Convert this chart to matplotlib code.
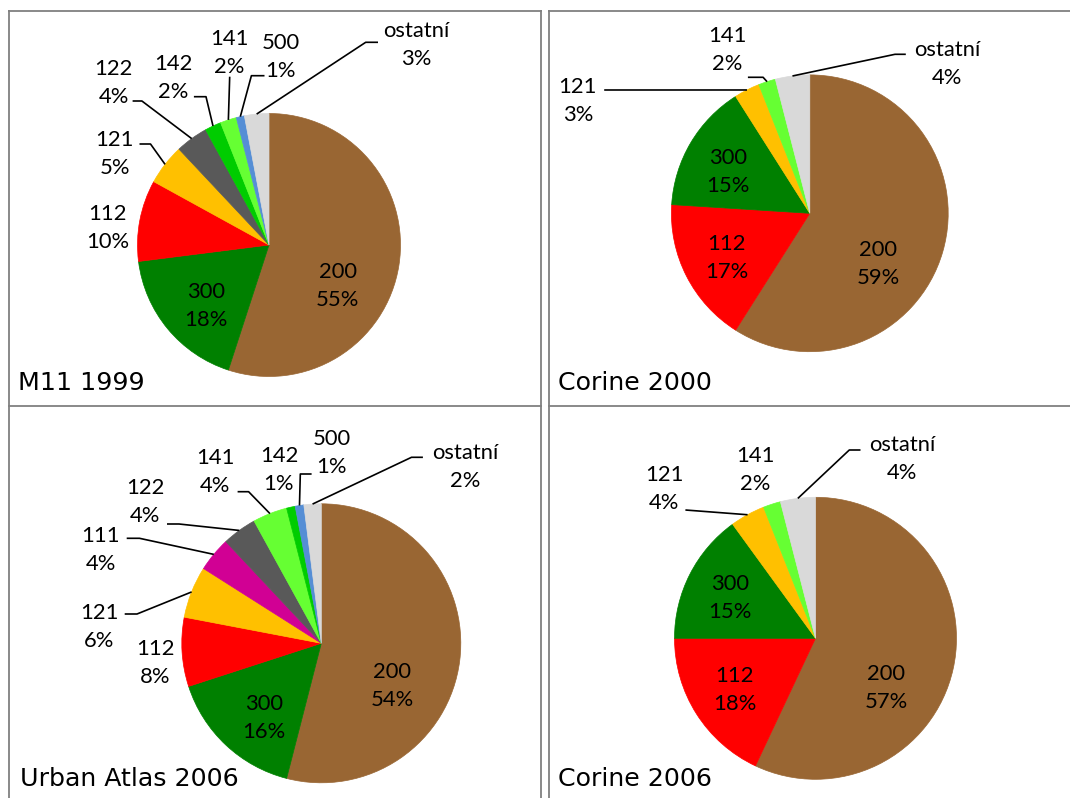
import matplotlib
matplotlib.use("Agg")
import matplotlib.pyplot as plt
from matplotlib.lines import Line2D
import numpy as np

plt.rcParams['font.family'] = ['Lato', 'DejaVu Sans']

W, H = 1070, 798

# ---- data: land-cover class codes and their shares (%) ----
m11_codes = ["200", "300", "112", "121", "122", "142", "141", "500", "ostatní"]
m11_shares = [55, 18, 10, 5, 4, 2, 2, 1, 3]

corine2000_codes = ["200", "112", "300", "121", "141", "ostatní"]
corine2000_shares = [59, 17, 15, 3, 2, 4]

urban_codes = ["200", "300", "112", "121", "111", "122", "141", "142", "500", "ostatní"]
urban_shares = [54, 16, 8, 6, 4, 4, 4, 1, 1, 2]

corine2006_codes = ["200", "112", "300", "121", "141", "ostatní"]
corine2006_shares = [57, 18, 15, 4, 2, 4]

titles = ["M11 1999", "Corine 2000", "Urban Atlas 2006", "Corine 2006"]

class_colors = {
    "200": "#996633",
    "300": "#008000",
    "112": "#FF0000",
    "121": "#FFC000",
    "122": "#595959",
    "111": "#D10094",
    "142": "#00CC00",
    "141": "#66FF33",
    "500": "#558ED5",
    "ostatní": "#D9D9D9",
}

# ---- layout (pixel coordinates measured from the top-left corner) ----
# label: (x, y of block centre); leader: (x_start, x_elbow, y)
panels = [
    dict(codes=m11_codes, shares=m11_shares, title=titles[0],
         center=(269, 245), radius=131.5, title_xy=(18.0, 389.5),
         labels={"200": (337.5, 283.8), "300": (205.6, 303.8), "112": (107.4, 225.8),
                 "121": (114.7, 151.5), "122": (113.6, 80.3), "142": (173.2, 75.8),
                 "141": (229.0, 50.5), "500": (280.6, 54.2), "ostatní": (416.7, 42.7)},
         leaders={"121": (139.5, 150.5, 144.0), "122": (132.6, 141.9, 101.0),
                  "142": (193.9, 206.0, 96.7), "141": (229.7, 229.7, 76.7),
                  "500": (264.5, 251.4, 75.7), "ostatní": (378.0, 365.7, 42.3)}),
    dict(codes=corine2000_codes, shares=corine2000_shares, title=titles[1],
         center=(809.8, 213.3), radius=138.4, title_xy=(557.5, 390.5),
         labels={"200": (878.0, 261.7), "112": (726.6, 255.8), "300": (728.3, 169.7),
                 "121": (577.9, 98.3), "141": (727.0, 47.5), "ostatní": (947.4, 61.7)},
         leaders={"121": (604.2, 604.2, 90.0), "141": (747.9, 763.1, 77.3),
                  "ostatní": (905.8, 895.0, 54.3)}),
    dict(codes=urban_codes, shares=urban_shares, title=titles[2],
         center=(321.3, 643.3), radius=139.5, title_xy=(20.5, 786.0),
         labels={"200": (391.9, 683.5), "300": (264.1, 715.5), "112": (155.0, 660.2),
                 "121": (99.2, 624.2), "111": (100.9, 547.5), "122": (145.3, 499.2),
                 "141": (215.2, 469.5), "142": (278.9, 467.5), "500": (331.3, 450.8),
                 "ostatní": (464.9, 465.0)},
         leaders={"121": (124.7, 137.0, 614.0), "111": (126.7, 139.5, 538.3),
                  "122": (167.0, 179.0, 524.0), "141": (237.6, 248.6, 491.7),
                  "500": (311.6, 300.3, 474.0), "ostatní": (422.9, 411.5, 457.3)}),
    dict(codes=corine2006_codes, shares=corine2006_shares, title=titles[3],
         center=(815.5, 638.3), radius=141.0, title_xy=(557.5, 786.0),
         labels={"200": (886.5, 685.5), "112": (734.4, 687.5), "300": (730.3, 595.8),
                 "121": (664.4, 486.2), "141": (755.3, 467.8), "ostatní": (902.4, 456.7)},
         leaders={"121": (685.4, 685.4, 510.0), "ostatní": (860.5, 849.3, 450.0)}),
]

LABEL_FS = 15.8
TITLE_FS = 18.2
LINESPACING = 1.5
LAST_BASELINE = 22.35  # offset from block centre to the baseline of the "%" line

fig = plt.figure(figsize=(W / 100, H / 100), dpi=100)
ax = fig.add_axes([0, 0, 1, 1])


def fy(y):
    """Convert a top-down pixel row to the bottom-up data coordinate."""
    return H - y


for p in panels:
    cx, cy = p["center"]
    r = p["radius"]
    wedges, _ = ax.pie(
        p["shares"],
        colors=[class_colors[c] for c in p["codes"]],
        startangle=90,
        counterclock=False,
        center=(cx, fy(cy)),
        radius=r,
        wedgeprops=dict(linewidth=0.5),
    )
    for code, share, w in zip(p["codes"], p["shares"], wedges):
        w.set_edgecolor(class_colors[code])
        lx, ly = p["labels"][code]
        ax.text(lx, fy(ly + LAST_BASELINE), f"{code}\n{share}%", ha="center",
                va="baseline", fontsize=LABEL_FS, linespacing=LINESPACING,
                multialignment="center", color="black")
        if code in p["leaders"]:
            xs, xe, yl = p["leaders"][code]
            mid = np.deg2rad((w.theta1 + w.theta2) / 2)
            ex = cx + r * np.cos(mid)
            ey = fy(cy) + r * np.sin(mid)
            ax.plot([xs, xe, ex], [fy(yl), fy(yl), ey], color="black", lw=1.2,
                    solid_capstyle="butt", zorder=3)
    tx, ty = p["title_xy"]
    ax.text(tx, fy(ty), p["title"], ha="left", va="baseline", fontsize=TITLE_FS,
            family=["DejaVu Sans"], color="black")

ax.set_xlim(0, W)
ax.set_ylim(0, H)
ax.set_aspect("equal")
ax.axis("off")

# table cell borders
border = dict(color="#808080", lw=1.3, solid_capstyle="butt")
for x in (9.0, 541.0, 548.5):
    ax.add_line(Line2D([x, x], [fy(10), fy(H + 2)], **border))
for y in (10.5, 405.5):
    ax.add_line(Line2D([8.0, 541.5], [fy(y), fy(y)], **border))
    ax.add_line(Line2D([548.0, W + 2], [fy(y), fy(y)], **border))

fig.savefig("out.png", dpi=100, facecolor="white")
